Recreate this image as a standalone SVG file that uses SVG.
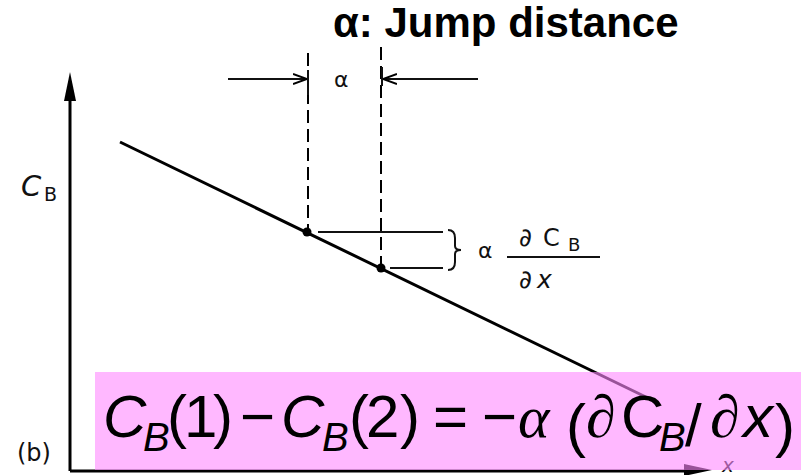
<svg xmlns="http://www.w3.org/2000/svg" width="801" height="475" viewBox="0 0 801 475">
  <defs>
    <style>
      .ax { stroke: #000; stroke-width: 3; fill: none; }
      .dash { stroke: #000; stroke-width: 2; stroke-dasharray: 13 6; fill: none; }
      .thin { stroke: #111; stroke-width: 2; fill: none; }
      .sk { font-family: "DejaVu Sans", "Liberation Sans", sans-serif; fill: #111; }
      .eq { font-family: "Liberation Sans", Arial, sans-serif; font-size: 60px; fill: #000; }
      .eqi { font-family: "Liberation Sans", Arial, sans-serif; font-style: italic; fill: #000; }
      .gr { font-family: "Liberation Serif", "Times New Roman", serif; font-style: italic; font-size: 60px; fill: #000; }
    </style>
    <marker id="open-arrow" viewBox="0 0 14 12" refX="14" refY="6" markerWidth="14" markerHeight="12" markerUnits="userSpaceOnUse" orient="auto">
      <path d="M0,1 L14,6 L0,11" fill="none" stroke="#000" stroke-width="2"/>
    </marker>
  </defs>
  <rect width="801" height="475" fill="#fff"/>

  <g id="title">
    <text x="333" y="37" font-family="Liberation Sans, Arial, sans-serif" font-weight="bold" font-size="42" fill="#000">α: Jump distance</text>
  </g>

  <g id="axes">
    <line class="ax" x1="70" y1="471" x2="70" y2="100"/>
    <path d="M70,72 L64,101 L76,101 Z" fill="#000"/>
    <line class="ax" x1="70" y1="471" x2="685" y2="471"/>
    <path d="M712,470 L684,464 L684,476 Z" fill="#000"/>
    <text class="sk" x="21" y="196" font-size="29" font-style="italic">C</text>
    <text class="sk" x="44" y="201" font-size="19">B</text>
    <text class="sk" x="17" y="461" font-size="24">(b)</text>
    <text class="sk" x="722" y="472" font-size="20" font-style="italic">x</text>
  </g>

  <g id="curve">
    <line class="ax" x1="120" y1="142" x2="650" y2="399"/>
    <circle cx="307" cy="232" r="4.5" fill="#000"/>
    <circle cx="381" cy="268" r="4.5" fill="#000"/>
  </g>

  <g id="connectors">
    <line class="dash" x1="308" y1="53" x2="308" y2="230"/>
    <line class="dash" x1="381" y1="47" x2="381" y2="268"/>
    <line class="thin" x1="308" y1="70" x2="308" y2="95"/>
    <line class="thin" x1="382" y1="67" x2="382" y2="86"/>
    <line class="thin" x1="228" y1="79" x2="307" y2="79" marker-end="url(#open-arrow)"/>
    <line class="thin" x1="478" y1="79" x2="383" y2="79" marker-end="url(#open-arrow)"/>
    <line class="thin" x1="318" y1="232" x2="443" y2="232"/>
    <line class="thin" x1="390" y1="268" x2="443" y2="268"/>
    <path d="M448,230 Q455,230 455,238 L455,246 Q455,250 461,250 Q455,250 455,254 L455,262 Q455,270 448,270" class="thin"/>
  </g>

  <g id="labels">
    <text class="sk" x="334" y="87" font-size="22">α</text>
    <text class="sk" x="478" y="258" font-size="22">α</text>
    <text class="sk" x="519" y="246" font-size="25">∂</text>
    <text class="sk" x="543" y="246" font-size="24">C</text>
    <text class="sk" x="568" y="251" font-size="18">B</text>
    <line class="thin" x1="507" y1="257" x2="600" y2="257"/>
    <text class="sk" x="519" y="288" font-size="25">∂</text>
    <text class="sk" x="537" y="288" font-size="25" font-style="italic">x</text>
  </g>

  <g id="formula">
    <rect x="95" y="372" width="706" height="98" fill="#FF88FF" fill-opacity="0.6"/>
    <text class="eqi" x="103" y="437" font-size="60">C</text>
    <text class="eqi" x="143" y="451" font-size="40">B</text>
    <text class="eq" x="167" y="437">(</text>
    <text class="eq" x="184" y="437">1</text>
    <text class="eq" x="213" y="437">)</text>
    <text class="eq" x="240" y="437">−</text>
    <text class="eqi" x="281" y="437" font-size="60">C</text>
    <text class="eqi" x="322" y="451" font-size="40">B</text>
    <text class="eq" x="349" y="437">(</text>
    <text class="eq" x="366" y="437">2</text>
    <text class="eq" x="400" y="437">)</text>
    <text class="eq" x="433" y="437">=</text>
    <text class="eq" x="482" y="437">−</text>
    <text class="gr" x="518" y="437">α</text>
    <text class="eq" x="566" y="446" font-size="80">(</text>
    <text class="gr" x="586" y="437">∂</text>
    <text class="eq" x="621" y="437">C</text>
    <text class="eqi" x="659" y="451" font-size="40">B</text>
    <text class="eq" x="685" y="446" font-size="72">/</text>
    <text class="gr" x="710" y="437">∂</text>
    <text class="eqi" x="743" y="437" font-size="60">x</text>
    <text class="eq" x="775" y="446" font-size="80">)</text>
  </g>
</svg>
